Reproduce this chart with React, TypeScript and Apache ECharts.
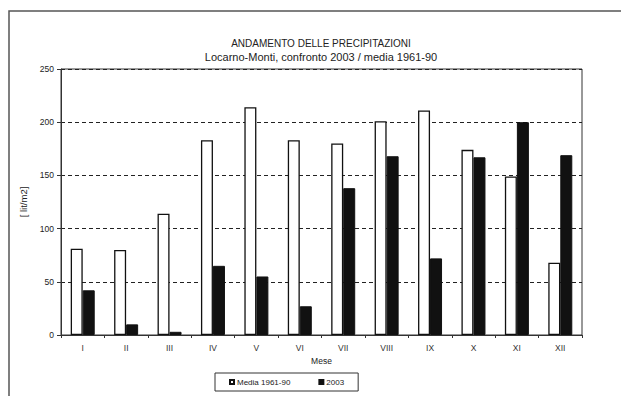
import React, { useEffect, useRef } from "react";
import * as echarts from "echarts";

const months = ["I", "II", "III", "IV", "V", "VI", "VII", "VIII", "IX", "X", "XI", "XII"];
const media196190 = [81, 80, 114, 183, 214, 183, 180, 201, 211, 174, 149, 68];
const values2003 = [42, 10, 3, 65, 55, 27, 138, 168, 72, 167, 200, 169];
const seriesNames = ["Media 1961-90", "2003"];
const titleText = "ANDAMENTO DELLE PRECIPITAZIONI";
const subtitleText = "Locarno-Monti, confronto 2003 / media 1961-90";

const FONT = "'Liberation Sans', Arial, sans-serif";

export default function App() {
  const ref = useRef<HTMLDivElement>(null);
  useEffect(() => {
    if (!ref.current) return;
    const chart = echarts.init(ref.current, undefined, { renderer: "svg" });
    chart.setOption({
      animation: false,
      backgroundColor: "#fff",
      textStyle: { fontFamily: FONT },
      title: {
        text: titleText,
        subtext: subtitleText,
        left: 321,
        textAlign: "center",
        top: 38,
        itemGap: 3,
        padding: 0,
        textStyle: { fontSize: 10, fontWeight: "normal", color: "#222", fontFamily: FONT },
        subtextStyle: { fontSize: 11, color: "#222", fontFamily: FONT },
      },
      graphic: [
        {
          type: "rect",
          shape: { x: 9, y: 11, width: 800, height: 600 },
          style: { fill: "none", stroke: "#555", lineWidth: 1.5 },
          silent: true,
          z: 0,
        },
      ],
      legend: {
        left: 215,
        top: 373,
        width: 143,
        height: 19,
        padding: [5, 14, 5, 14],
        itemGap: 28,
        itemWidth: 4,
        itemHeight: 4,
        borderColor: "#333",
        borderWidth: 1,
        icon: "rect",
        textStyle: { fontSize: 8, color: "#222", fontFamily: FONT, padding: [0, 0, 0, -2] },
        data: seriesNames,
      },
      grid: {
        left: 61,
        right: 39,
        top: 69,
        bottom: 61,
        show: true,
        borderColor: "#333",
        borderWidth: 1,
        backgroundColor: "transparent",
      },
      xAxis: {
        type: "category",
        data: months,
        name: "Mese",
        nameLocation: "middle",
        nameGap: 21,
        nameTextStyle: { fontSize: 8.5, color: "#222", fontFamily: FONT },
        axisLine: { lineStyle: { color: "#333", width: 1 } },
        axisTick: { show: true, alignWithLabel: false, length: 3, lineStyle: { color: "#333" } },
        axisLabel: { fontSize: 8.5, color: "#333", margin: 8, fontFamily: FONT },
      },
      yAxis: {
        type: "value",
        min: 0,
        max: 250,
        interval: 50,
        name: "[ lit/m2]",
        nameLocation: "middle",
        nameGap: 27,
        nameRotate: 90,
        nameTextStyle: { fontSize: 9.5, color: "#222", fontFamily: FONT },
        axisLine: { show: true, lineStyle: { color: "#333", width: 1 } },
        axisTick: { show: true, length: 4, lineStyle: { color: "#333" } },
        axisLabel: { fontSize: 8.5, color: "#222", margin: 7, fontFamily: FONT },
        splitLine: { show: true, lineStyle: { color: "#222", type: [4, 3], width: 1.2 } },
      },
      series: [
        {
          name: seriesNames[0],
          type: "bar",
          data: media196190,
          barWidth: 12,
          barGap: "0%",
          itemStyle: { color: "#fff", borderColor: "#111", borderWidth: 1.3 },
          z: 3,
        },
        {
          name: seriesNames[1],
          type: "bar",
          data: values2003,
          barWidth: 12,
          barGap: "0%",
          itemStyle: { color: "#111", borderColor: "#111", borderWidth: 1 },
          z: 3,
        },
      ],
    });
    return () => chart.dispose();
  }, []);
  return (
    <div
      ref={ref}
      style={{ position: "fixed", left: 0, top: 0, width: 621, height: 396 }}
    />
  );
}
